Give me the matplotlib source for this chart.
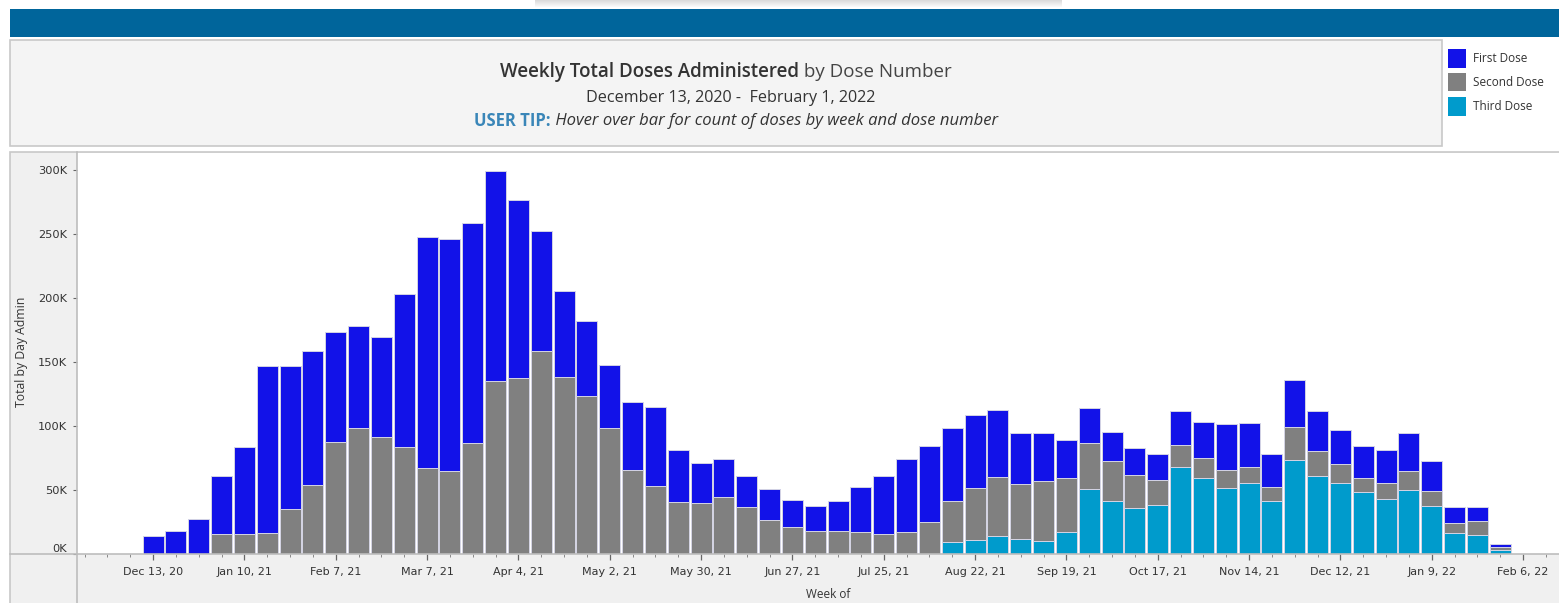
import matplotlib
matplotlib.use("Agg")
import matplotlib.pyplot as plt
import matplotlib.dates as mdates
from matplotlib.patches import Rectangle
from matplotlib.lines import Line2D
import numpy as np
import pandas as pd

# ---------------- data ----------------
weeks = pd.date_range("2020-12-13", periods=60, freq="7D")

first_dose = [14.0, 17.9, 27.0, 45.9, 68.6, 130.5, 112.0, 104.8, 86.1, 79.3,
              78.3, 119.5, 181.3, 181.6, 172.2, 164.6, 139.4, 94.5, 67.3, 58.8,
              49.5, 53.0, 62.3, 40.7, 31.5, 29.5, 24.3, 24.0, 21.2, 19.3,
              23.2, 35.5, 45.7, 57.2, 59.7, 57.1, 56.8, 52.5, 39.4, 37.1,
              30.0, 27.2, 22.8, 20.6, 20.3, 26.3, 28.2, 36.2, 34.5, 26.3,
              36.5, 31.1, 26.4, 25.3, 25.9, 30.0, 24.0, 12.3, 11.2, 1.8]
second_dose = [0, 0, 0, 15.0, 15.0, 16.3, 34.8, 53.4, 87.0, 98.5,
               90.9, 83.6, 66.7, 64.6, 86.2, 134.8, 137.6, 158.2, 138.4, 123.5,
               98.3, 65.6, 52.6, 40.6, 39.3, 44.2, 36.4, 26.2, 20.7, 17.9,
               17.9, 16.8, 15.0, 16.8, 24.4, 32.1, 41.0, 45.8, 43.6, 47.0,
               42.0, 36.5, 31.5, 26.4, 19.8, 17.8, 15.7, 14.4, 12.5, 10.7,
               26.1, 19.2, 14.6, 10.9, 13.0, 14.9, 11.5, 8.3, 10.7, 2.7]
third_dose = [0] * 35 + [9.0, 10.3, 14.0, 11.1, 10.0,
              16.8, 50.2, 41.1, 35.3, 38.0, 67.4, 58.8, 51.0, 54.9, 41.1,
              73.2, 61.0, 55.4, 47.9, 42.4, 49.7, 37.2, 15.8, 14.5, 2.7]

series_names = ["First Dose", "Second Dose", "Third Dose"]
series_colors = ["#1212E8", "#808080", "#009BCC"]

y_ticks = [0, 50000, 100000, 150000, 200000, 250000, 300000]
y_tick_labels = ["0K", "50K", "100K", "150K", "200K", "250K", "300K"]
x_tick_dates = pd.date_range("2020-12-13", periods=16, freq="28D")
x_tick_labels = ["Dec 13, 20", "Jan 10, 21", "Feb 7, 21", "Mar 7, 21", "Apr 4, 21",
                 "May 2, 21", "May 30, 21", "Jun 27, 21", "Jul 25, 21", "Aug 22, 21",
                 "Sep 19, 21", "Oct 17, 21", "Nov 14, 21", "Dec 12, 21", "Jan 9, 22",
                 "Feb 6, 22"]
minor_tick_dates = pd.date_range("2020-11-22", "2022-02-13", freq="7D")

# ---------------- figure ----------------
W, H = 1559, 603
TITLE_FONT = ["Open Sans", "DejaVu Sans"]
AXIS_FONT = ["DejaVu Sans"]
plt.rcParams["font.family"] = TITLE_FONT
fig = plt.figure(figsize=(W / 100, H / 100), dpi=100)
fig.patch.set_facecolor("white")


def fx(x):
    return x / W


def fy(y):
    return 1 - y / H


def rect(x0, y0, x1, y1, zorder=-5, **kw):
    fig.patches.append(Rectangle((fx(x0), fy(y1)), fx(x1) - fx(x0), fy(y0) - fy(y1),
                                 transform=fig.transFigure, figure=fig, zorder=zorder, **kw))


def line(x0, y0, x1, y1, **kw):
    fig.lines.append(Line2D([fx(x0), fx(x1)], [fy(y0), fy(y1)],
                            transform=fig.transFigure, figure=fig, zorder=10, **kw))


# top shadow
for i, a in enumerate(np.linspace(0.35, 0.05, 7)):
    rect(535, i, 1062, i + 1, facecolor="#999999", edgecolor="none", alpha=a)
# blue band
rect(10, 9, W, 37, facecolor="#00659B", edgecolor="none")
# title box
rect(10, 40, 1442, 146, facecolor="#F4F4F4", edgecolor="#C8C8C8", linewidth=1.2)
# chart panel
rect(10, 152, W + 2, H + 2, facecolor="#F0F0F0", edgecolor="#C8C8C8", linewidth=1.2)

# ---------------- axes ----------------
ax = fig.add_axes([fx(77), fy(553.5), fx(W) - fx(77), fy(153) - fy(553.5)])
ax.set_zorder(2)
ax.set_facecolor("white")
x = mdates.date2num(weeks.to_pydatetime())
f = np.array(first_dose) * 1000
s = np.array(second_dose) * 1000
t = np.array(third_dose) * 1000
bw = 6.45
ec = "#D4D4E4"
ax.bar(x, t, width=bw, color=series_colors[2], edgecolor=ec, linewidth=0.7)
ax.bar(x, s, width=bw, bottom=t, color=series_colors[1], edgecolor=ec, linewidth=0.7)
ax.bar(x, f, width=bw, bottom=t + s, color=series_colors[0], edgecolor=ec, linewidth=0.7)

ax.set_ylim(0, 313500)
ax.set_xlim(mdates.date2num(pd.Timestamp("2020-11-19 16:00").to_pydatetime()),
            mdates.date2num(pd.Timestamp("2022-02-17").to_pydatetime()))
for sp in ax.spines.values():
    sp.set_visible(False)

ax.set_yticks(y_ticks)
ax.set_yticklabels(y_tick_labels, family=AXIS_FONT)
ax.set_xticks(mdates.date2num(x_tick_dates.to_pydatetime()))
ax.set_xticklabels(x_tick_labels, family=AXIS_FONT)
ax.set_xticks(mdates.date2num(minor_tick_dates.to_pydatetime()), minor=True)
ax.tick_params(axis="y", length=3, width=0.8, color="#666666", pad=4,
               labelsize=8.2, labelcolor="#333333")
ax.tick_params(axis="x", which="major", length=4, width=0.9, color="#666666", pad=6,
               labelsize=8, labelcolor="#333333")
ax.tick_params(axis="x", which="minor", length=2, width=0.7, color="#888888")
ax.get_yticklabels()[0].set_va("bottom")

# divider lines
line(77, 152, 77, H, color="#BDBDBD", linewidth=1.2)
line(10, 553.5, W, 553.5, color="#BDBDBD", linewidth=1.2)

# axis titles
fig.text(fx(22), fy(352), "Total by Day Admin", rotation=90, ha="center", va="center",
         fontsize=8.8, color="#333333")
fig.text(fx(828), fy(595), "Week of", ha="center", va="center", fontsize=8.5, color="#333333")

# ---------------- titles ----------------
renderer = fig.canvas.get_renderer()


def mixed(cx, cy, parts):
    texts = []
    for txt, kw in parts:
        texts.append(fig.text(0, fy(cy), txt, va="center", ha="left", **kw))
    widths = [tt.get_window_extent(renderer).width for tt in texts]
    start = cx - sum(widths) / 2
    for tt, w in zip(texts, widths):
        tt.set_x(fx(start))
        start += w


mixed(726, 72, [("Weekly Total Doses Administered", dict(fontsize=13.5, color="#333333", fontweight="semibold")),
                (" by Dose Number", dict(fontsize=13.5, color="#444444"))])
fig.text(fx(731), fy(98), "December 13, 2020 -  February 1, 2022", ha="center", va="center",
         fontsize=11.6, color="#333333")
mixed(736, 121, [("USER TIP:", dict(fontsize=12, color="#3A86B8", fontweight="bold")),
                 (" Hover over bar for count of doses by week and dose number",
                  dict(fontsize=12, color="#333333", style="italic"))])

# ---------------- legend ----------------
leg_y = [(49, 68), (73, 91), (97, 116)]
for (y0, y1), name, col in zip(leg_y, series_names, series_colors):
    rect(1448, y0, 1466, y1, facecolor=col, edgecolor="none")
    fig.text(fx(1473), fy((y0 + y1) / 2), name, ha="left", va="center", fontsize=8.5,
             color="#333333")

fig.savefig("out.png", dpi=100)
